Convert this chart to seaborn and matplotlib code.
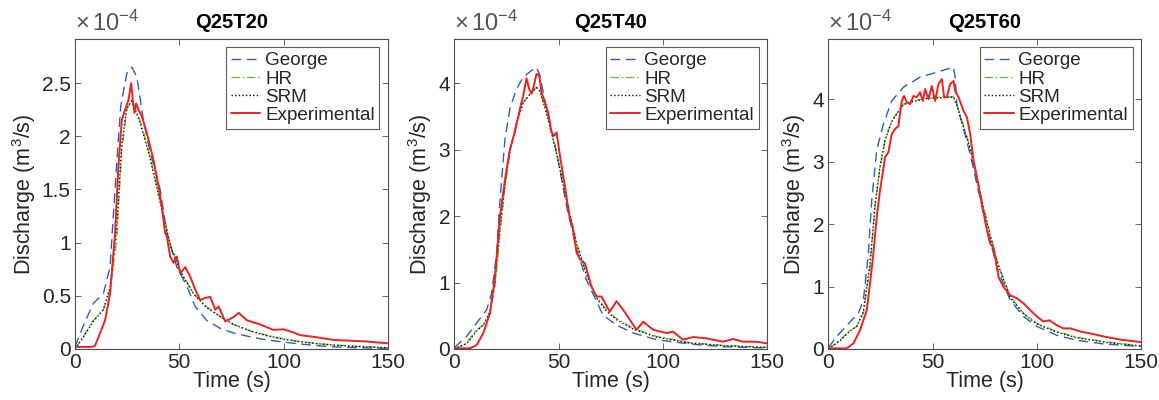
import matplotlib
matplotlib.use("Agg")
import matplotlib.pyplot as plt
import seaborn as sns
import pandas as pd

# ---------------- data (discharge in units of 1e-4 m^3/s) ----------------
titles = ["Q25T20", "Q25T40", "Q25T60"]
series_names = ["George", "HR", "SRM", "Experimental"]

# Panel 1: Q25T20
t1_george = [0, 4, 8.8, 13.6, 16.8, 20, 21.9, 24.8, 27.2, 29.6, 32.8, 36, 40.8, 44, 48.8, 53.6, 57.6, 63, 70, 76, 85, 92, 100, 108, 116, 124, 135, 150]
q1_george = [0.02, 0.22, 0.43, 0.52, 0.77, 1.75, 2.28, 2.59, 2.65, 2.56, 2.15, 1.85, 1.50, 1.09, 0.77, 0.59, 0.40, 0.27, 0.19, 0.15, 0.11, 0.085, 0.065, 0.047, 0.032, 0.02, 0.012, 0.006]
t1_hr = [0, 4, 8.8, 13.6, 16.8, 20, 22.4, 24.8, 27.2, 31.2, 36, 40.8, 45.6, 50.4, 56.8, 63, 70, 76, 84, 92, 100, 108, 116, 124, 135, 150]
q1_hr = [0.0, 0.12, 0.27, 0.37, 0.55, 1.03, 1.87, 2.25, 2.34, 2.15, 1.81, 1.40, 0.99, 0.74, 0.52, 0.40, 0.30, 0.23, 0.17, 0.13, 0.095, 0.07, 0.052, 0.038, 0.025, 0.013]
t1_srm = [0, 4, 8.8, 13.6, 16.8, 20, 22.4, 24.8, 27.2, 31.2, 36, 40.8, 45.6, 50.4, 56.8, 63, 70, 76, 84, 92, 100, 108, 116, 124, 135, 150]
q1_srm = [0.0, 0.11, 0.26, 0.37, 0.58, 1.15, 1.92, 2.27, 2.33, 2.13, 1.79, 1.38, 0.98, 0.73, 0.52, 0.39, 0.30, 0.23, 0.17, 0.125, 0.092, 0.068, 0.05, 0.036, 0.024, 0.012]
t1_exp = [0, 4, 8, 9.6, 12, 14.4, 16.8, 19.2, 20.8, 22.4, 24, 25.6, 26.9, 27.7, 28.5, 29.3, 30.4, 32, 34.4, 37.6, 40, 41.6, 43.2, 44, 45.6, 47.2, 48.8, 50.4, 52.8, 55.2, 57.6, 60, 62.4, 64.8, 67.2, 68.8, 72, 76, 78.4, 82.4, 88.8, 95, 100, 104, 108, 116, 124, 132, 140, 150]
q1_exp = [0.02, 0.02, 0.02, 0.03, 0.15, 0.27, 0.52, 1.09, 1.72, 2.15, 2.25, 2.34, 2.50, 2.34, 2.22, 2.31, 2.25, 2.19, 2.03, 1.78, 1.53, 1.34, 1.09, 1.06, 0.87, 0.81, 0.87, 0.71, 0.77, 0.68, 0.56, 0.46, 0.48, 0.49, 0.37, 0.40, 0.26, 0.30, 0.34, 0.27, 0.23, 0.18, 0.185, 0.16, 0.13, 0.11, 0.085, 0.078, 0.07, 0.053]

# Panel 2: Q25T40
t2_george = [0, 5.9, 10.7, 15.5, 17.9, 20.3, 21.9, 24.3, 26.6, 29.8, 33, 36.2, 39.4, 41, 44.2, 49, 53.8, 58.6, 63.3, 68.1, 71.3, 77.7, 85.7, 96.9, 112.8, 128.8, 150]
q2_george = [0.02, 0.19, 0.39, 0.59, 0.84, 1.45, 2.25, 3.16, 3.61, 3.91, 4.09, 4.17, 4.24, 4.12, 3.61, 2.96, 2.15, 1.50, 1.04, 0.72, 0.51, 0.36, 0.24, 0.14, 0.076, 0.035, 0.015]
t2_hr = [0, 5.9, 10.7, 13.9, 17.1, 19.5, 21.9, 24.3, 26.6, 29.8, 33, 36.2, 39.4, 41, 44.2, 49, 53.8, 58.6, 63.3, 68.1, 72.9, 77.7, 85.7, 96.9, 112.8, 128.8, 150]
q2_hr = [0.0, 0.09, 0.29, 0.36, 0.54, 0.94, 1.75, 2.45, 2.96, 3.41, 3.71, 3.84, 3.94, 3.89, 3.56, 2.96, 2.25, 1.60, 1.14, 0.79, 0.59, 0.46, 0.31, 0.19, 0.096, 0.055, 0.025]
t2_srm = [0, 5.9, 10.7, 13.9, 17.1, 19.5, 21.9, 24.3, 26.6, 29.8, 33, 36.2, 39.4, 41, 44.2, 49, 53.8, 58.6, 63.3, 68.1, 72.9, 77.7, 85.7, 96.9, 112.8, 128.8, 150]
q2_srm = [0.0, 0.08, 0.27, 0.36, 0.57, 1.02, 1.82, 2.48, 2.97, 3.40, 3.70, 3.83, 3.93, 3.88, 3.55, 2.94, 2.23, 1.58, 1.12, 0.77, 0.57, 0.44, 0.30, 0.18, 0.09, 0.05, 0.022]
t2_exp = [0, 4, 7.5, 10.7, 13.9, 17.1, 19.5, 21.9, 24.3, 26.6, 29, 31.4, 33, 34.6, 35.9, 37, 38.1, 39.4, 40.7, 41.8, 43.4, 45, 46.6, 47.9, 49, 50.6, 53, 55.4, 56.6, 58.6, 60.2, 62.6, 65.7, 68.1, 70.5, 74.5, 77.7, 80.9, 87.3, 90.5, 95.3, 101.6, 104.8, 109.6, 114.4, 120.8, 128.8, 133.6, 138.3, 144.7, 150]
q2_exp = [0.01, 0.01, 0.01, 0.06, 0.24, 0.54, 1.09, 2.0, 2.55, 3.0, 3.26, 3.61, 3.81, 4.07, 3.91, 3.84, 3.96, 4.14, 4.12, 3.86, 3.71, 3.56, 3.26, 3.21, 3.26, 2.91, 2.45, 1.95, 1.85, 1.45, 1.35, 1.29, 0.94, 0.79, 0.79, 0.56, 0.72, 0.59, 0.29, 0.41, 0.29, 0.24, 0.26, 0.14, 0.18, 0.16, 0.11, 0.15, 0.11, 0.11, 0.085]

# Panel 3: Q25T60
t3_george = [0, 4, 11.2, 14.4, 16.8, 19.2, 20.8, 23.2, 26.4, 30.4, 36, 44, 52, 60, 60.8, 61.6, 68, 74.4, 80.8, 87.2, 93.6, 100, 109.5, 119, 132, 150]
q3_george = [0.02, 0.20, 0.46, 0.57, 0.78, 1.53, 2.38, 3.18, 3.60, 3.97, 4.19, 4.35, 4.43, 4.51, 4.35, 3.92, 3.12, 2.16, 1.31, 0.78, 0.52, 0.36, 0.22, 0.14, 0.08, 0.04]
t3_hr = [0, 5.6, 10.4, 13.6, 16.8, 20, 22.4, 24.8, 27.2, 30.4, 33.6, 36, 40.8, 47.2, 60, 61.6, 68, 74.4, 80.8, 87.2, 93.6, 100, 109.5, 119, 132, 150]
q3_hr = [0.0, 0.14, 0.30, 0.36, 0.57, 1.31, 2.27, 2.91, 3.34, 3.65, 3.81, 3.92, 3.97, 4.02, 4.04, 3.92, 3.23, 2.27, 1.42, 0.84, 0.57, 0.41, 0.28, 0.19, 0.12, 0.05]
t3_srm = [0, 5.6, 10.4, 13.6, 16.8, 20, 22.4, 24.8, 27.2, 30.4, 33.6, 36, 40.8, 47.2, 60, 61.6, 68, 74.4, 80.8, 87.2, 93.6, 100, 109.5, 119, 132, 150]
q3_srm = [0.0, 0.13, 0.29, 0.36, 0.60, 1.38, 2.30, 2.92, 3.34, 3.64, 3.80, 3.91, 3.96, 4.01, 4.03, 3.90, 3.20, 2.24, 1.40, 0.82, 0.56, 0.40, 0.27, 0.18, 0.11, 0.045]
t3_exp = [0, 4, 8.8, 12, 15.2, 18.4, 20, 21.6, 23.2, 24.8, 27.2, 28.8, 30.4, 32, 33.6, 35.2, 36.3, 37.6, 39.2, 40.8, 42.4, 44, 45.3, 46.4, 48, 49.6, 51.2, 52.8, 54.4, 55.5, 56.8, 58.4, 60, 60.8, 62.4, 64.8, 66.4, 68, 69.6, 71.2, 73.6, 76, 77.6, 79.2, 81.6, 84, 87.2, 90.4, 93.6, 96.8, 100, 103, 106, 109.5, 112.7, 116, 120.7, 125.5, 132, 140, 150]
q3_exp = [0.01, 0.01, 0.01, 0.09, 0.30, 0.62, 1.05, 1.53, 2.11, 2.54, 3.07, 3.15, 3.44, 3.52, 3.57, 3.97, 4.05, 3.95, 3.92, 4.05, 4.03, 4.11, 3.97, 4.16, 4.00, 4.21, 3.97, 4.24, 4.32, 4.03, 4.03, 4.24, 4.29, 4.13, 4.03, 3.81, 3.71, 3.44, 3.02, 2.75, 2.32, 1.90, 1.69, 1.61, 1.15, 0.99, 0.86, 0.81, 0.73, 0.62, 0.52, 0.44, 0.46, 0.38, 0.33, 0.33, 0.28, 0.25, 0.20, 0.15, 0.11]

panels = [
    [(t1_george, q1_george), (t1_hr, q1_hr), (t1_srm, q1_srm), (t1_exp, q1_exp)],
    [(t2_george, q2_george), (t2_hr, q2_hr), (t2_srm, q2_srm), (t2_exp, q2_exp)],
    [(t3_george, q3_george), (t3_hr, q3_hr), (t3_srm, q3_srm), (t3_exp, q3_exp)],
]
x_ticks = [0, 50, 100, 150]

# ---------------- styling ----------------
sns.set_theme(style="white")
plt.rcParams["font.family"] = ["Liberation Sans", "DejaVu Sans"]
plt.rcParams["mathtext.fontset"] = "custom"
plt.rcParams["mathtext.rm"] = "Liberation Sans"
plt.rcParams["mathtext.it"] = "Liberation Sans:italic"

styles = {
    "George": dict(color="#2e5fb8", ls=(0, (7, 4)), lw=1.0),
    "HR": dict(color="#6cbf3a", ls=(0, (6, 2, 1.2, 2)), lw=1.0),
    "SRM": dict(color="#111111", ls=(0, (1, 1.6)), lw=1.0),
    "Experimental": dict(color="#ee2020", ls="-", lw=1.4),
}
text_color = "#262626"
frame_color = "#4d4d4d"
fs_lab = 15.5
fs_tick = 15
fs_title = 14.5
fs_leg = 13.6

fig = plt.figure(figsize=(11.59, 4.0), dpi=100)
lefts = [75, 454.3, 828.3]
W, H = 1159.0, 400.0
for i, left in enumerate(lefts):
    ax = fig.add_axes([left / W, 51 / H, 313 / W, 310 / H])
    for name, (t, q) in zip(series_names, panels[i]):
        df = pd.DataFrame({"Time": t, "Q": q})
        st = styles[name]
        sns.lineplot(data=df, x="Time", y="Q", ax=ax, color=st["color"],
                     linestyle=st["ls"], linewidth=st["lw"], label=name,
                     estimator=None, sort=False)
    ymax = 1.1 * max(panels[i][0][1])
    ax.set_xlim(0, 150)
    ax.set_ylim(0, ymax)
    ax.set_xticks(x_ticks)
    ax.yaxis.set_major_formatter(matplotlib.ticker.FormatStrFormatter("%g"))
    ax.set_xlabel("Time (s)", fontsize=fs_lab, color=text_color, labelpad=-1)
    ax.set_ylabel("Discharge (m$^3$/s)", fontsize=fs_lab, color=text_color, labelpad=3)
    ax.set_title(titles[i], fontsize=fs_title, fontweight="bold", color="black", pad=8)
    ax.tick_params(direction="in", length=4, width=0.6, colors=frame_color,
                   labelcolor=text_color, labelsize=fs_tick, top=True, right=True,
                   bottom=True, left=True, pad=3)
    for sp in ax.spines.values():
        sp.set_visible(True)
        sp.set_color(frame_color)
        sp.set_linewidth(0.8)
    ax.text(0.0, 1.01, r"$\times\,10^{-4}$", transform=ax.transAxes,
            fontsize=17, color="#555555", ha="left", va="bottom")
    leg = ax.legend(loc="upper right", fontsize=fs_leg, frameon=True, fancybox=False,
                    handlelength=1.55, handletextpad=0.25, labelspacing=0.05,
                    borderpad=0.25, borderaxespad=0.45)
    leg.get_frame().set_edgecolor("#333333")
    leg.get_frame().set_linewidth(0.8)
    for txt in leg.get_texts():
        txt.set_color(text_color)

fig.savefig("out.png", dpi=100)
